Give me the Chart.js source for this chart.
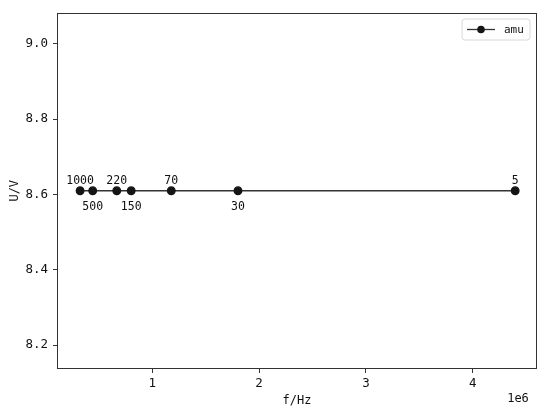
<!DOCTYPE html>
<html>
<head>
<meta charset="utf-8">
<script src="https://cdn.jsdelivr.net/npm/chart.js@4/dist/chart.umd.min.js"></script>
<style>
html,body{margin:0;padding:0;background:#fff;}
#wrap{width:550px;height:418px;}
</style>
</head>
<body>
<div id="wrap"><canvas id="c" width="550" height="418"></canvas></div>
<script>
const freqs = [326000, 444000, 669000, 804000, 1179000, 1803000, 4396000];
const voltages = [8.61, 8.61, 8.61, 8.61, 8.61, 8.61, 8.61];
const pointLabels = ['1000', '500', '220', '150', '70', '30', '5'];
const labelAbove = [true, false, true, false, true, false, true];
const xTicks = [1000000, 2000000, 3000000, 4000000];
const yTicks = [8.2, 8.4, 8.6, 8.8, 9.0];
const seriesName = 'amu';

const FONT = "'DejaVu Sans Mono', monospace";
const TXT = '#111';

const extras = {
  id: 'extras',
  afterDatasetsDraw(chart) {
    const ctx = chart.ctx;
    const a = chart.chartArea;
    ctx.save();
    // frame
    ctx.strokeStyle = '#333';
    ctx.lineWidth = 1;
    const L = Math.round(a.left) + 0.5, T = Math.round(a.top) + 0.5;
    const R = Math.round(a.right) - 0.5, B = Math.round(a.bottom) - 0.5;
    ctx.strokeRect(L, T, R - L, B - T);
    // point labels
    const meta = chart.getDatasetMeta(0);
    ctx.font = '11.5px ' + FONT;
    ctx.fillStyle = TXT;
    ctx.textAlign = 'center';
    ctx.textBaseline = 'middle';
    meta.data.forEach((pt, i) => {
      const y = labelAbove[i] ? pt.y - 10 : pt.y + 16;
      ctx.fillText(pointLabels[i], pt.x, y);
    });
    // axis titles
    ctx.font = '12px ' + FONT;
    ctx.fillText('f/Hz', (a.left + a.right) / 2, 401);
    ctx.fillText('1e6', a.right - 19, 399);
    ctx.save();
    ctx.translate(15, (a.top + a.bottom) / 2);
    ctx.rotate(-Math.PI / 2);
    ctx.fillText('U/V', 0, 0);
    ctx.restore();
    // legend
    const lx = 462, ly = 19, lw = 68, lh = 21, r = 3;
    ctx.beginPath();
    ctx.moveTo(lx + r, ly);
    ctx.arcTo(lx + lw, ly, lx + lw, ly + lh, r);
    ctx.arcTo(lx + lw, ly + lh, lx, ly + lh, r);
    ctx.arcTo(lx, ly + lh, lx, ly, r);
    ctx.arcTo(lx, ly, lx + lw, ly, r);
    ctx.closePath();
    ctx.fillStyle = 'rgba(255,255,255,0.8)';
    ctx.fill();
    ctx.strokeStyle = '#d8d8d8';
    ctx.stroke();
    ctx.strokeStyle = '#333';
    ctx.lineWidth = 1.3;
    ctx.beginPath();
    ctx.moveTo(467, 29.5);
    ctx.lineTo(495, 29.5);
    ctx.stroke();
    ctx.beginPath();
    ctx.arc(481, 29.5, 3.8, 0, Math.PI * 2);
    ctx.fillStyle = '#151515';
    ctx.fill();
    ctx.fillStyle = TXT;
    ctx.textAlign = 'left';
    ctx.font = '11px ' + FONT;
    ctx.fillText(seriesName, 504, 30);
    ctx.restore();
  }
};

new Chart(document.getElementById('c'), {
  type: 'scatter',
  data: {
    datasets: [{
      label: seriesName,
      data: freqs.map((f, i) => ({ x: f, y: voltages[i] })),
      showLine: true,
      borderColor: '#333',
      borderWidth: 1.3,
      backgroundColor: '#151515',
      pointBackgroundColor: '#151515',
      pointBorderColor: '#151515',
      pointRadius: 3.8,
      pointHoverRadius: 3.8
    }]
  },
  options: {
    responsive: false,
    animation: false,
    events: [],
    layout: { padding: { top: 12, right: 13, left: 0, bottom: 0 } },
    plugins: { legend: { display: false }, tooltip: { enabled: false } },
    scales: {
      x: {
        type: 'linear',
        min: 110000,
        max: 4600000,
        afterBuildTicks(s) { s.ticks = xTicks.map(v => ({ value: v })); },
        afterFit(s) { s.height = 49; },
        grid: { drawOnChartArea: false, drawTicks: true, tickLength: 4, color: '#333' },
        border: { display: false },
        ticks: {
          padding: 3,
          color: TXT,
          font: { family: FONT, size: 12.5 },
          maxRotation: 0,
          callback: v => String(v / 1000000)
        }
      },
      y: {
        type: 'linear',
        min: 8.1365,
        max: 9.0835,
        afterBuildTicks(s) { s.ticks = yTicks.map(v => ({ value: v })); },
        afterFit(s) { s.width = 57; },
        grid: { drawOnChartArea: false, drawTicks: true, tickLength: 4, color: '#333' },
        border: { display: false },
        ticks: {
          padding: 5,
          color: TXT,
          font: { family: FONT, size: 12.5 },
          callback: v => v.toFixed(1)
        }
      }
    }
  },
  plugins: [extras]
});
</script>
</body>
</html>
